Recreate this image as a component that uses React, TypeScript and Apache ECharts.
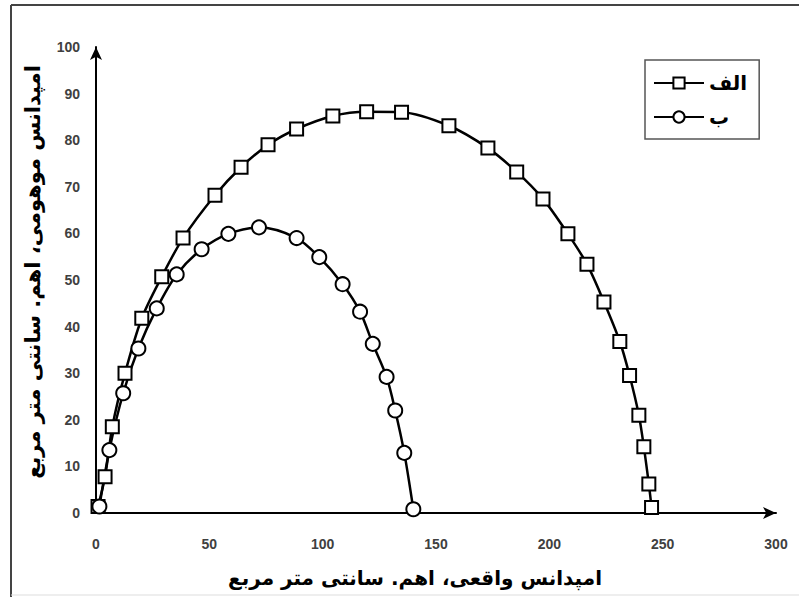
import React, { useEffect, useRef } from "react";
import * as echarts from "echarts";

const seriesNames = ["الف", "ب"];

const seriesAlefX = [0.9, 4.0, 7.2, 12.8, 20.2, 29.0, 38.4, 52.5, 64.0, 75.9, 88.5, 104.5, 119.4, 134.8, 155.7, 172.9, 185.6, 197.2, 208.2, 216.6, 224.1, 231.1, 235.4, 239.5, 241.7, 243.9, 245.1];
const seriesAlefY = [1.4, 7.8, 18.5, 30.0, 41.8, 50.7, 59.0, 68.2, 74.2, 79.0, 82.4, 85.2, 86.1, 86.0, 83.1, 78.3, 73.2, 67.4, 59.9, 53.4, 45.3, 36.8, 29.5, 21.0, 14.2, 6.2, 1.2];

const seriesBeX = [1.5, 5.9, 12.0, 18.7, 26.8, 35.6, 46.6, 58.4, 71.9, 88.5, 98.5, 108.8, 116.5, 122.1, 128.2, 132.0, 136.0, 140.0];
const seriesBeY = [1.4, 13.5, 25.7, 35.3, 43.9, 51.2, 56.6, 59.9, 61.3, 59.0, 54.9, 49.1, 43.2, 36.3, 29.2, 22.0, 12.9, 0.8];

const xTitle = "امپدانس واقعی، اهم. سانتی متر مربع";
const yTitle = "امپدانس موهومی، اهم. سانتی متر مربع";

const pairs = (xs: number[], ys: number[]) => xs.map((x, i) => [x, ys[i]]);

export default function App() {
  const ref = useRef<HTMLDivElement>(null);
  useEffect(() => {
    if (!ref.current) return;
    const chart = echarts.init(ref.current, null, { renderer: "svg" });
    const lineStyle = { color: "#000", width: 2.5 };
    const itemStyle = { color: "#fff", borderColor: "#000", borderWidth: 2 };
    chart.setOption({
      animation: false,
      backgroundColor: "#fff",
      grid: { left: 96, right: 23, top: 47, bottom: 84, containLabel: false },
      xAxis: {
        type: "value",
        min: 0,
        max: 300,
        interval: 50,
        splitLine: { show: false },
        axisTick: { show: false },
        axisLine: {
          onZero: false,
          symbol: ["none", "arrow"],
          symbolSize: [9, 13],
          lineStyle: { color: "#000", width: 2 },
        },
        axisLabel: { margin: 24, color: "#404040", fontSize: 14, fontWeight: "bold", fontFamily: "Liberation Sans" },
      },
      yAxis: {
        type: "value",
        min: 0,
        max: 100,
        interval: 10,
        splitLine: { show: false },
        axisTick: { show: false },
        axisLine: {
          show: true,
          onZero: false,
          symbol: ["none", "arrow"],
          symbolSize: [9, 13],
          lineStyle: { color: "#000", width: 2 },
        },
        axisLabel: { margin: 16, color: "#404040", fontSize: 14, fontWeight: "bold", fontFamily: "Liberation Sans" },
      },
      legend: {
        orient: "vertical",
        left: 645,
        top: 60,
        padding: [13, 12, 12, 8],
        itemGap: 14,
        itemWidth: 50,
        itemHeight: 14,
        borderColor: "#555",
        borderWidth: 1.5,
        textStyle: { color: "#000", fontSize: 20, fontWeight: "bold", fontFamily: "DejaVu Sans", width: 44, align: "center" },
        data: seriesNames,
      },
      graphic: [
        { type: "line", shape: { x1: 11, y1: 5, x2: 799, y2: 5 }, style: { stroke: "#444", lineWidth: 2 } },
        { type: "line", shape: { x1: 11, y1: 5, x2: 11, y2: 597 }, style: { stroke: "#444", lineWidth: 2 } },
        { type: "line", shape: { x1: 11, y1: 595, x2: 799, y2: 595 }, style: { stroke: "#ddd", lineWidth: 1 } },
        {
          type: "text",
          x: 415,
          y: 578,
          style: { text: xTitle, fill: "#000", font: "bold 20px 'DejaVu Sans'", textAlign: "center", textVerticalAlign: "middle" },
        },
        {
          type: "text",
          x: 33,
          y: 272,
          rotation: Math.PI / 2,
          style: { text: yTitle, fill: "#000", font: "bold 21px 'DejaVu Sans'", textAlign: "center", textVerticalAlign: "middle" },
        },
      ],
      series: [
        {
          name: seriesNames[0],
          type: "line",
          smooth: 0.3,
          symbol: "rect",
          symbolSize: 13,
          data: pairs(seriesAlefX, seriesAlefY),
          lineStyle,
          itemStyle,
        },
        {
          name: seriesNames[1],
          type: "line",
          smooth: 0.3,
          symbol: "circle",
          symbolSize: 14,
          data: pairs(seriesBeX, seriesBeY),
          lineStyle,
          itemStyle,
        },
      ],
    });
    return () => chart.dispose();
  }, []);
  return <div ref={ref} style={{ width: 799, height: 597, position: "absolute", left: 0, top: 0 }} />;
}
